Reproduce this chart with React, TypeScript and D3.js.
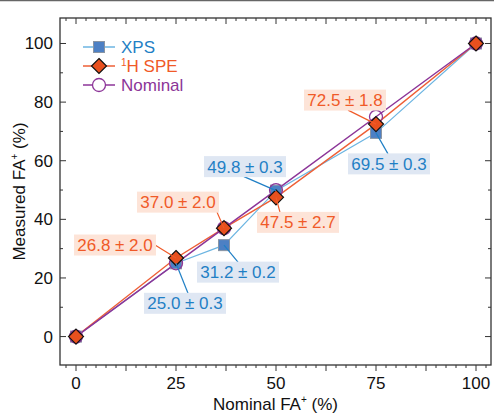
import * as d3 from "d3";

const nominalX = [0, 25, 37, 50, 75, 100];
const xpsValues = [0, 25.0, 31.2, 49.8, 69.5, 100];
const speValues = [0, 26.8, 37.0, 47.5, 72.5, 100];
const nominalValues = [0, 25, 37, 50, 75, 100];

const xpsErrors = [null, 0.3, 0.2, 0.3, 0.3, null];
const speErrors = [null, 2.0, 2.0, 2.7, 1.8, null];

const xTickLabels = [0, 25, 50, 75, 100];
const yTickLabels = [0, 20, 40, 60, 80, 100];

// label placement relative to each point (px): box centre and leader end
const xpsLabelPos = [null, [9, 40, 12, 30], [14, 27, 14, 17], [-31, -24, -32, -14], [13, 31, 12, 21], null];
const speLabelPos = [null, [-61, -13, -21, -13], [-46, -26, -7, -16], [22, 25, 4, 15], [-31, -24, -28, -14], null];

const width = 494;
const height = 414;
const frame = { left: 60, right: 491, top: 18, bottom: 365 };

const C = {
  xpsLine: "#6cb5e2",
  xpsFill: "#4d80c4",
  xpsText: "#1f7fc5",
  xpsBox: "#dfe7f3",
  speLine: "#ee5f36",
  speFill: "#e8501e",
  speText: "#f05a28",
  speBox: "#fde4d8",
  nom: "#8c3598",
};

const font = "Liberation Sans, Arial, sans-serif";
const fs = 17;

export default function App() {
  const x = d3.scaleLinear().domain([-4, 103.75]).range([frame.left, frame.right]);
  const y = d3.scaleLinear().domain([-9.7, 108.7]).range([frame.bottom, frame.top]);

  const line = (vals: number[]) =>
    d3.line<number>().x((_, i) => x(nominalX[i])).y((v) => y(v))(vals) as string;

  const xMinor = d3.range(-2.5, 103, 2.5);
  const yMinor = d3.range(0, 101, 10);

  const diamond = (cx: number, cy: number, r: number) =>
    `M${cx},${cy - r}L${cx + r},${cy}L${cx},${cy + r}L${cx - r},${cy}Z`;

  const label = (
    cx: number,
    cy: number,
    text: string,
    pos: number[],
    col: string,
    box: string,
    key: string
  ) => (
    <g key={key}>
      <line x1={cx} y1={cy} x2={cx + pos[2]} y2={cy + pos[3]} stroke={col} strokeWidth={1.2} />
      <rect x={cx + pos[0] - 41} y={cy + pos[1] - 10.5} width={82} height={21} fill={box} />
      <text
        x={cx + pos[0]}
        y={cy + pos[1] + 6}
        textAnchor="middle"
        fontSize={fs}
        fill={col}
      >
        {text}
      </text>
    </g>
  );

  return (
    <svg
      width={width}
      height={height}
      style={{ position: "fixed", left: 0, top: 0, background: "#fff" }}
      fontFamily={font}
    >
      <line x1={0} x2={width} y1={0.5} y2={0.5} stroke="#666" strokeWidth={1.5} />

      {/* series lines */}
      <path d={line(xpsValues)} fill="none" stroke={C.xpsLine} strokeWidth={1.2} />
      <path d={line(speValues)} fill="none" stroke={C.speLine} strokeWidth={1.4} />
      <path d={line(nominalValues)} fill="none" stroke={C.nom} strokeWidth={1.5} />

      {/* markers */}
      {xpsValues.map((v, i) => (
        <rect
          key={"x" + i}
          x={x(nominalX[i]) - 5.5}
          y={y(v) - 5.5}
          width={11}
          height={11}
          fill={C.xpsFill}
          stroke="#8a95a3"
          strokeWidth={1}
        />
      ))}
      {nominalValues.map((v, i) => (
        <circle key={"n" + i} cx={x(nominalX[i])} cy={y(v)} r={6.5} fill="none" stroke={C.nom} strokeWidth={1.3} />
      ))}
      {speValues.map((v, i) => (
        <path key={"s" + i} d={diamond(x(nominalX[i]), y(v), 7.5)} fill={C.speFill} stroke="#111" strokeWidth={1.2} />
      ))}

      {/* annotations */}
      {xpsValues.map((v, i) =>
        xpsErrors[i] == null
          ? null
          : label(x(nominalX[i]), y(v), `${v.toFixed(1)} ± ${(xpsErrors[i] as number).toFixed(1)}`, xpsLabelPos[i] as number[], C.xpsText, C.xpsBox, "xl" + i)
      )}
      {speValues.map((v, i) =>
        speErrors[i] == null
          ? null
          : label(x(nominalX[i]), y(v), `${v.toFixed(1)} ± ${(speErrors[i] as number).toFixed(1)}`, speLabelPos[i] as number[], C.speText, C.speBox, "sl" + i)
      )}

      {/* frame */}
      <rect
        x={frame.left}
        y={frame.top}
        width={frame.right - frame.left}
        height={frame.bottom - frame.top}
        fill="none"
        stroke="#333"
        strokeWidth={1.3}
      />

      {/* x ticks: bottom outward, top inward */}
      {xMinor.map((t) => {
        const major = Math.abs(t % 12.5) < 1e-6;
        const len = major ? 6 : 3;
        return (
          <g key={"xt" + t} stroke="#333" strokeWidth={1}>
            <line x1={x(t)} x2={x(t)} y1={frame.bottom} y2={frame.bottom + len} />
            <line x1={x(t)} x2={x(t)} y1={frame.top} y2={frame.top + len} />
          </g>
        );
      })}
      {xTickLabels.map((t) => (
        <text key={"xl" + t} x={x(t)} y={frame.bottom + 24} textAnchor="middle" fontSize={fs} fill="#111">
          {t}
        </text>
      ))}

      {/* y ticks: inward both sides */}
      {yMinor.map((t) => {
        const major = t % 20 === 0;
        const len = major ? 6 : 3;
        return (
          <g key={"yt" + t} stroke="#333" strokeWidth={1}>
            <line x1={frame.left} x2={frame.left + len} y1={y(t)} y2={y(t)} />
            <line x1={frame.right} x2={frame.right - len} y1={y(t)} y2={y(t)} />
          </g>
        );
      })}
      {yTickLabels.map((t) => (
        <text key={"yl" + t} x={frame.left - 7} y={y(t) + 6} textAnchor="end" fontSize={fs} fill="#111">
          {t}
        </text>
      ))}

      {/* axis titles */}
      <text x={(frame.left + frame.right) / 2} y={410} textAnchor="middle" fontSize={fs} fill="#111">
        Nominal FA
        <tspan fontSize={10} dy={-7}>+</tspan>
        <tspan dy={7}> (%)</tspan>
      </text>
      <text
        transform={`translate(25, ${(frame.top + frame.bottom) / 2}) rotate(-90)`}
        textAnchor="middle"
        fontSize={fs}
        fill="#111"
      >
        Measured FA
        <tspan fontSize={10} dy={-7}>+</tspan>
        <tspan dy={7}> (%)</tspan>
      </text>

      {/* legend */}
      <g>
        <line x1={83} x2={115} y1={47} y2={47} stroke={C.xpsLine} strokeWidth={1.5} />
        <rect x={93.5} y={41.5} width={11} height={11} fill={C.xpsFill} stroke="#8a95a3" />
        <text x={121} y={53} fontSize={fs} fill={C.xpsText}>XPS</text>

        <line x1={83} x2={115} y1={66} y2={66} stroke={C.speLine} strokeWidth={1.5} />
        <path d={diamond(99, 66, 7.5)} fill={C.speFill} stroke="#111" strokeWidth={1.2} />
        <text x={121} y={72} fontSize={fs} fill={C.speText}>
          <tspan fontSize={10} dy={-6}>1</tspan>
          <tspan dy={6}>H SPE</tspan>
        </text>

        <line x1={83} x2={115} y1={85} y2={85} stroke={C.nom} strokeWidth={1.5} />
        <circle cx={99} cy={85} r={6.5} fill="#fff" stroke={C.nom} strokeWidth={1.3} />
        <text x={121} y={91} fontSize={fs} fill={C.nom}>Nominal</text>
      </g>
    </svg>
  );
}
